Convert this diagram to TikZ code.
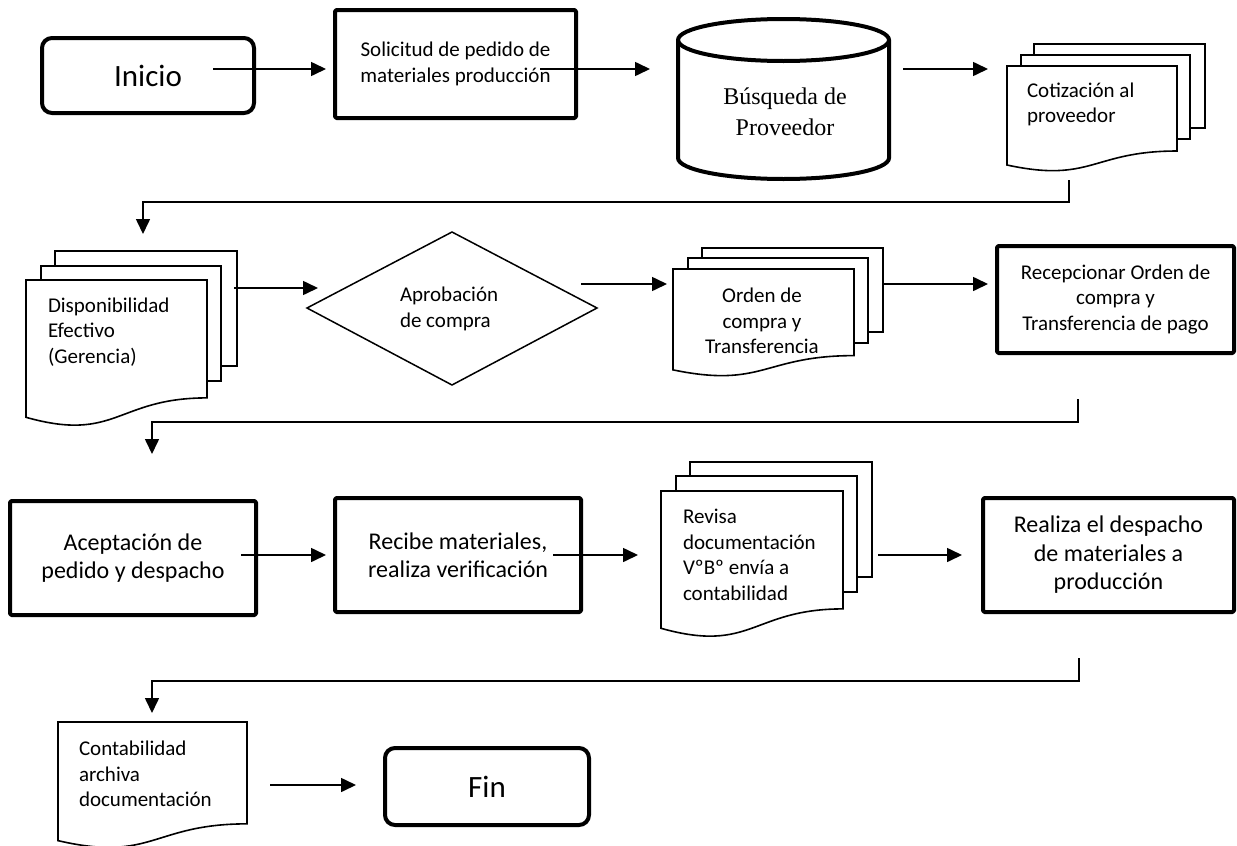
\documentclass[tikz,border=0pt]{standalone}
\usepackage{fontspec}
\setmainfont{Carlito}
\newfontfamily\timesfont{Liberation Serif}
\usetikzlibrary{arrows.meta}
\newcommand\docfront[4]{% L T R h
  \draw[docline] (#1,#2) -- (#3,#2) -- (#3,{#2+0.802*#4})
    .. controls ({(#1+#3)/2},{#2+0.802*#4}) and ({(#1+#3)/2},{#2+1.1075*#4}) .. (#1,{#2+0.934*#4}) -- cycle;}
\newcommand\docback[4]{\draw[docline] (#1,#2) rectangle (#3,#4);}
\begin{document}
\begin{tikzpicture}[x=1pt,y=-1pt,
  every node/.style={inner sep=0pt, outer sep=0pt},
  bigbox/.style={draw, line width=4pt, line join=round, rounded corners=1.5pt, align=center, fill=white},
  term/.style={draw, line width=4pt, rounded corners=10pt, fill=white},
  f21/.style={font=\fontsize{21}{25.6}\selectfont},
  f24/.style={font=\fontsize{24}{28.5}\selectfont},
  f31/.style={font=\fontsize{31}{36}\selectfont},
  arr/.style={line width=1.6pt, -{Triangle[length=15pt,width=14pt]}},
  conn/.style={line width=1.6pt},
  docline/.style={line width=1.6pt, fill=white, line join=miter},
]
\useasboundingbox (0,0) rectangle (1237,846);
\fill[white] (0,0) rectangle (1237,846);

% Row 1
\node[term, f31, minimum width=212pt, minimum height=75pt] (inicio) at (148,75.5) {Inicio};
\node[bigbox, f21, minimum width=241pt, minimum height=108pt] (sol) at (455.5,64) {Solicitud de pedido de\\materiales producción};
\draw[line width=4pt, fill=white] (678,40) -- (678,158) arc[start angle=180, end angle=0, x radius=105.5, y radius=21]
  -- (889,40) arc[start angle=0, end angle=-180, x radius=105.5, y radius=21] -- cycle;
\draw[line width=4pt] (678,40) arc[start angle=180, end angle=0, x radius=105.5, y radius=21];
\node[font=\timesfont\fontsize{24}{31}\selectfont, align=center] (busq) at (785,112) {Búsqueda de\\Proveedor};
\docback{1034}{44}{1205}{128}
\docback{1021}{55}{1190}{139}
\docfront{1007}{66}{1177}{106}
\node[f21, align=left, anchor=west] (cot) at (1027,104.5) {Cotización al\\proveedor};

% Row 2
\docback{55}{251}{237}{366}
\docback{41}{266}{221}{381}
\docfront{26}{280}{207}{147}
\node[f21, align=left, anchor=west] (disp) at (48,332) {Disponibilidad\\Efectivo\\(Gerencia)};
\draw[line width=1.5pt, line join=miter] (307,308) -- (452,232) -- (597,308) -- (452,385) -- cycle;
\node[f21, align=left, anchor=west] (aprob) at (400,309) {Aprobación\\de compra};
\docback{702}{248}{883}{332}
\docback{688}{258}{868}{343}
\docfront{673}{269}{854}{108}
\node[f21, align=center] (orden) at (762,321) {Orden de\\compra y\\Transferencia};
\node[bigbox, f21, minimum width=237pt, minimum height=107pt] (recep) at (1115.5,299.5) {Recepcionar Orden de\\compra y\\Transferencia de pago};

% Row 3
\node[bigbox, f24, minimum width=246pt, minimum height=114pt] (acep) at (133,558) {Aceptación de\\pedido y despacho};
\node[bigbox, f24, minimum width=246pt, minimum height=114pt] (recibe) at (458,555) {Recibe materiales,\\realiza verificación};
\docback{690}{462}{872}{577}
\docback{676}{476}{857}{592}
\docfront{661}{491}{843}{147}
\node[f21, align=left, anchor=west] (revisa) at (683,555) {Revisa\\documentación\\VºBº envía a\\contabilidad};
\node[bigbox, f24, minimum width=251pt, minimum height=114pt] (realiza) at (1108.5,555) {Realiza el despacho\\de materiales a\\producción};

% Row 4
\docfront{58}{722}{247}{127}
\node[f21, align=left, anchor=west] (conta) at (79,774) {Contabilidad\\archiva\\documentación};
\node[term, f31, minimum width=204pt, minimum height=77pt] (fin) at (487,786.5) {Fin};

% connector points
\coordinate (p1) at (213,69);   \coordinate (q1) at (326,69);
\coordinate (p2) at (540,69);   \coordinate (q2) at (650,69);
\coordinate (p3) at (903,69);   \coordinate (q3) at (988,69);
\coordinate (p4) at (1069,180); \coordinate (k4) at (1069,202); \coordinate (q4) at (143,234);
\coordinate (p5) at (234,288);  \coordinate (q5) at (318,288);
\coordinate (p6) at (581,284);  \coordinate (q6) at (667,284);
\coordinate (p7) at (883,284);  \coordinate (q7) at (988,284);
\coordinate (p8) at (1078,399); \coordinate (k8) at (1078,422); \coordinate (q8) at (152,454);
\coordinate (p9) at (241,555);  \coordinate (q9) at (326,555);
\coordinate (p10) at (553,555); \coordinate (q10) at (638,555);
\coordinate (p11) at (878,555); \coordinate (q11) at (962,555);
\coordinate (p12) at (1079,658); \coordinate (k12) at (1079,681); \coordinate (q12) at (152,713);
\coordinate (p13) at (270,785); \coordinate (q13) at (356,785);

\draw[arr] (p1) -- (q1);
\draw[arr] (p2) -- (q2);
\draw[arr] (p3) -- (q3);
\draw[arr] (p4) -- (k4) -| (q4);
\draw[arr] (p5) -- (q5);
\draw[arr] (p6) -- (q6);
\draw[arr] (p7) -- (q7);
\draw[arr] (p8) -- (k8) -| (q8);
\draw[arr] (p9) -- (q9);
\draw[arr] (p10) -- (q10);
\draw[arr] (p11) -- (q11);
\draw[arr] (p12) -- (k12) -| (q12);
\draw[arr] (p13) -- (q13);
\end{tikzpicture}
\end{document}
